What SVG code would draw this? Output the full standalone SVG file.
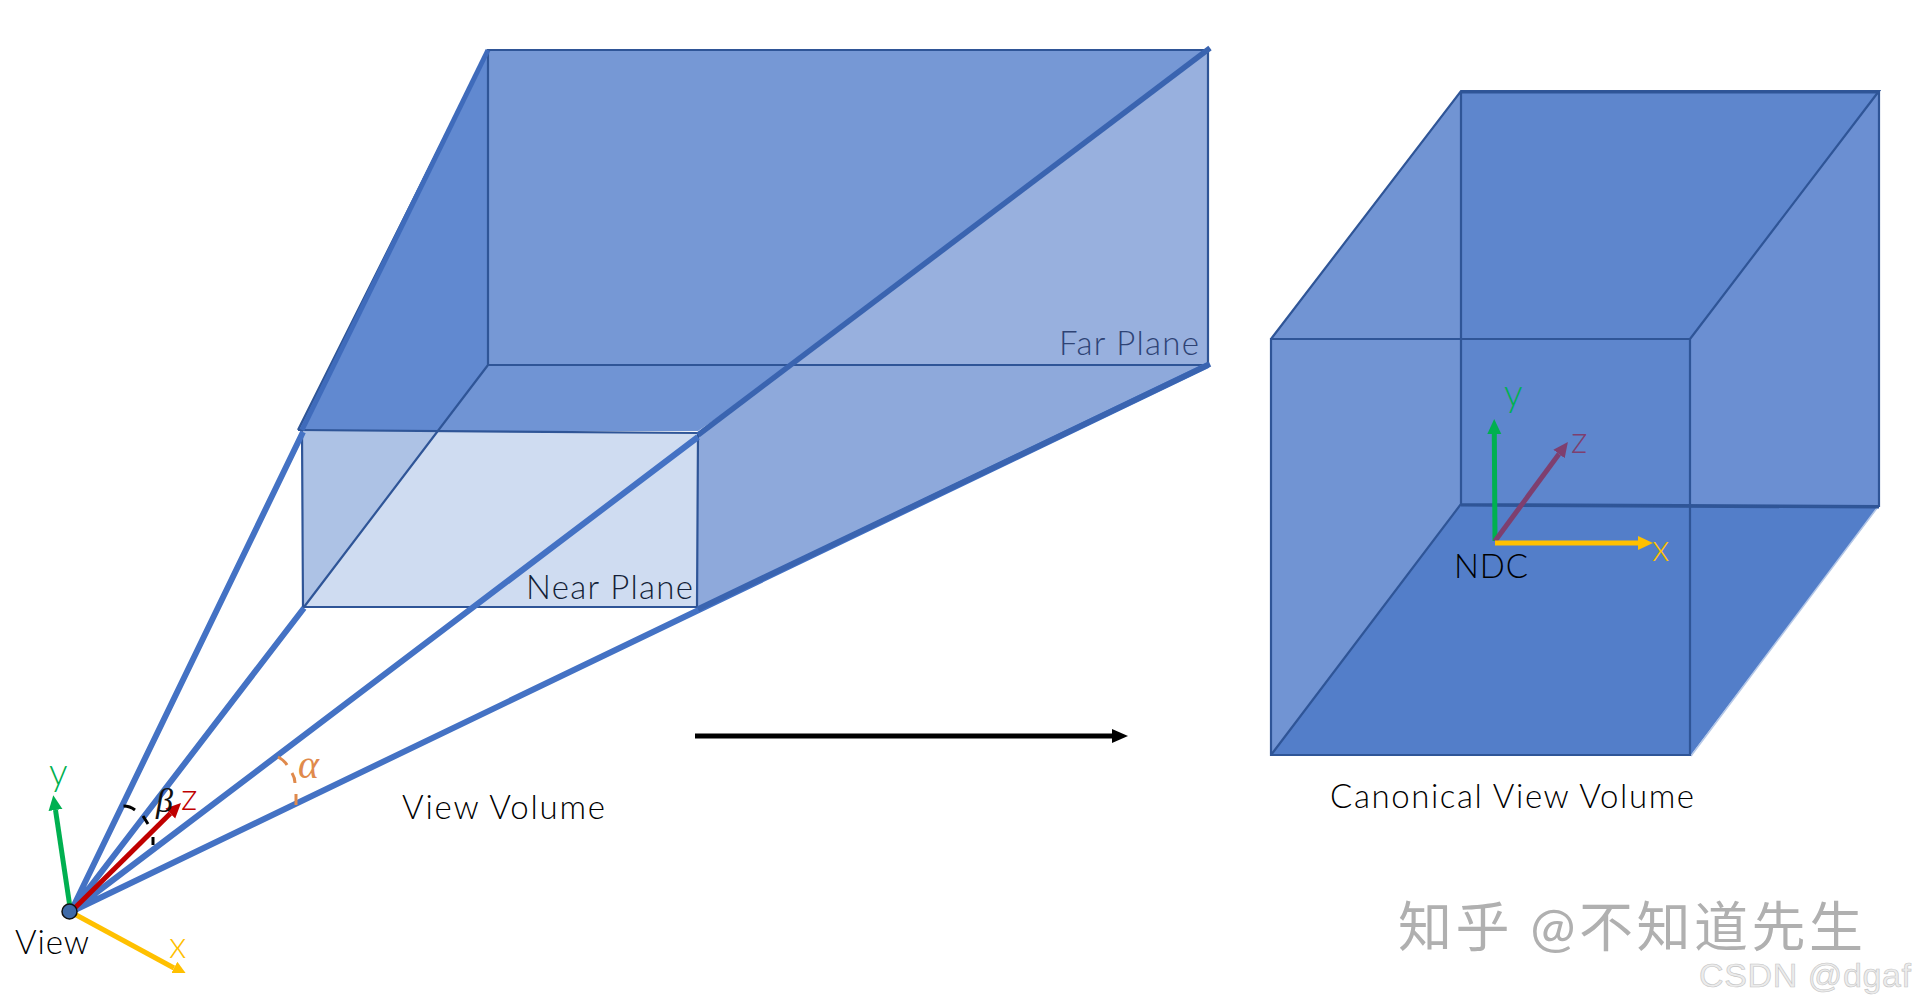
<svg xmlns="http://www.w3.org/2000/svg" width="1912" height="1005" viewBox="0 0 1912 1005">
<style>
text{font-family:"Lato","Noto Sans CJK SC",sans-serif;font-weight:300}
.lb{font-size:33px;fill:#000}
.ax-l{font-size:37px}
.edge{fill:none;stroke:#2f5597;stroke-width:2.2;stroke-linejoin:miter}
.ray{fill:none;stroke:#4472c4;stroke-width:6}
.ax{fill:none;stroke-width:5}
.arcO{fill:none;stroke:#e08a4c;stroke-width:3}
.arcK{fill:none;stroke:#000;stroke-width:3}
</style>
<defs>
<marker id="hg" markerUnits="userSpaceOnUse" markerWidth="16" markerHeight="16" refX="0" refY="8" orient="auto"><path d="M0,1 L15,8 L0,15z" fill="#00b050"/></marker>
<marker id="hr" markerUnits="userSpaceOnUse" markerWidth="16" markerHeight="16" refX="0" refY="8" orient="auto"><path d="M0,1 L15,8 L0,15z" fill="#c00000"/></marker>
<marker id="hy" markerUnits="userSpaceOnUse" markerWidth="16" markerHeight="16" refX="0" refY="8" orient="auto"><path d="M0,1 L15,8 L0,15z" fill="#ffc000"/></marker>
<marker id="hp" markerUnits="userSpaceOnUse" markerWidth="16" markerHeight="16" refX="0" refY="8" orient="auto"><path d="M0,1 L15,8 L0,15z" fill="#7e3f6f"/></marker>
<marker id="hk" markerUnits="userSpaceOnUse" markerWidth="18" markerHeight="18" refX="0" refY="9" orient="auto"><path d="M0,2 L16,9 L0,16z" fill="#000"/></marker>
<clipPath id="cx"><rect x="60" y="900" width="140" height="73"/></clipPath>
</defs>
<g id="view-volume">
<polygon points="488,50 1208,50 794,365 488,365" fill="#7698d5"/>
<polygon points="1208,50 1208,365 794,365" fill="#98b0de"/>
<polygon points="794,365 1208,365 698,610 698,433" fill="#8ea9db"/>
<polygon points="488,365 794,365 698,431 438,431" fill="#7094d4"/>
<polygon points="298,430 488,50 488,365 438,431" fill="#6189d0"/>
<polygon points="302,431 438,431 304,607" fill="#adc2e5"/>
<polygon points="438,431 698,433 697,607 304,607" fill="#cfdcf1"/>
<path class="edge" d="M488,50 H1208 V365 H488 Z M488,365 L304,607 M298,430 L488,50"/>
<path class="edge" d="M298,430 L698,433 L697,607 L303,607 L302,431"/>
</g>
<g id="canonical-volume">
<polygon points="1271,339 1461,91 1461,504 1271,755" fill="#7194d3"/>
<polygon points="1461,91 1879,91 1690,339 1690,505 1461,504" fill="#5e86cd"/>
<polygon points="1879,91 1879,506 1690,505 1690,339" fill="#6b8fd2"/>
<polygon points="1461,504 1879,506 1691,755 1271,755" fill="#537ec9"/>
<path d="M1691,756 L1877,508" fill="none" stroke="#b4c7e7" stroke-width="1.5"/>
<path class="edge" d="M1271,339 L1461,91 H1879 L1690,339 M1271,339 H1690 V755 H1271 Z M1461,91 V504 L1271,755 M1461,504 L1879,506 V91"/>
<path class="edge" d="M1461,92.5 H1879"/>
<path class="edge" d="M1461,505.5 L1879,507.5"/>
</g>
<g id="connectors">
<path class="ray" d="M70.7,912 L303,432 M70.7,912 L304,608 M70.7,912 L698,437 M70.7,912 L1208,365"/>
<path d="M302,430 L488,50" fill="none" stroke="#3f6bbb" stroke-width="5"/>
<path d="M698,435 L1210,48" fill="none" stroke="#3a64b0" stroke-width="5.5"/>
<path d="M698,609 L1210,364" fill="none" stroke="#3a64b0" stroke-width="5.5"/>
<line class="ax" x1="70.7" y1="912" x2="55.5" y2="810" stroke="#00b050" marker-end="url(#hg)"/>
<line class="ax" x1="70.7" y1="912" x2="170.3" y2="813.5" stroke="#c00000" marker-end="url(#hr)"/>
<line class="ax" x1="70.7" y1="912" x2="174" y2="968" stroke="#ffc000" marker-end="url(#hy)" clip-path="url(#cx)"/>
<line class="ax" x1="1495" y1="541" x2="1494.3" y2="434" stroke="#00b050" marker-end="url(#hg)"/>
<line class="ax" x1="1495" y1="541" x2="1559" y2="454" stroke="#7e3f6f" marker-end="url(#hp)"/>
<line class="ax" x1="1495" y1="543" x2="1638" y2="543" stroke="#ffc000" marker-end="url(#hy)"/>
<line x1="695" y1="736" x2="1112" y2="736" stroke="#000" stroke-width="5" marker-end="url(#hk)"/>
</g>
<g id="view-origin"><circle cx="69.5" cy="911.5" r="7.5" fill="#3f6aa8" stroke="#111" stroke-width="1.5"/></g>
<g id="angles">
<path class="arcO" d="M278,757 Q284,760 287,765 M292,773 Q295,778 295,783 M296,794 L296,805"/>
<path class="arcK" d="M123.5,806 Q130,806 135,810 M143,816 L148,824 M153,837 L153,845"/>
</g>
<g id="labels">
<text class="lb" x="526" y="599" textLength="167" style="fill:#141f38">Near Plane</text>
<text class="lb" x="1059" y="355" textLength="140" style="fill:#2e4375">Far Plane</text>
<text class="lb" x="402" y="819" textLength="203">View Volume</text>
<text class="lb" x="1330" y="808" textLength="364">Canonical View Volume</text>
<text class="lb" x="15" y="954" textLength="74">View</text>
<text class="lb" x="1454" y="578" textLength="74">NDC</text>
<text class="lb ax-l" x="49" y="785" style="fill:#00b050">y</text>
<text class="lb ax-l" x="181" y="810" style="fill:#c00000">z</text>
<text class="lb ax-l" x="169" y="958" style="fill:#ffc000">x</text>
<text class="lb ax-l" x="1504" y="406" style="fill:#00b050">y</text>
<text class="lb ax-l" x="1571" y="453" style="fill:#7e3f6f">z</text>
<text class="lb ax-l" x="1652" y="561" style="fill:#ffc000">x</text>
<text x="298" y="778" style="font-family:'Liberation Serif',serif;font-style:italic;font-size:40px;font-weight:400;fill:#e08a4c">α</text>
<text x="156" y="812" style="font-family:'Liberation Serif',serif;font-style:italic;font-size:34px;font-weight:400;fill:#111">β</text>
</g>
<g id="watermark">
<text x="1398" y="947" textLength="465" style="font-size:54px;font-weight:400;fill:#b0b0b0">知乎 @不知道先生</text>
<text x="1699" y="987" textLength="212" style="font-family:'Liberation Sans',sans-serif;font-size:34px;font-weight:400;fill:#ececec;stroke:#c4c4c4;stroke-width:.6">CSDN @dgaf</text>
</g>
</svg>
